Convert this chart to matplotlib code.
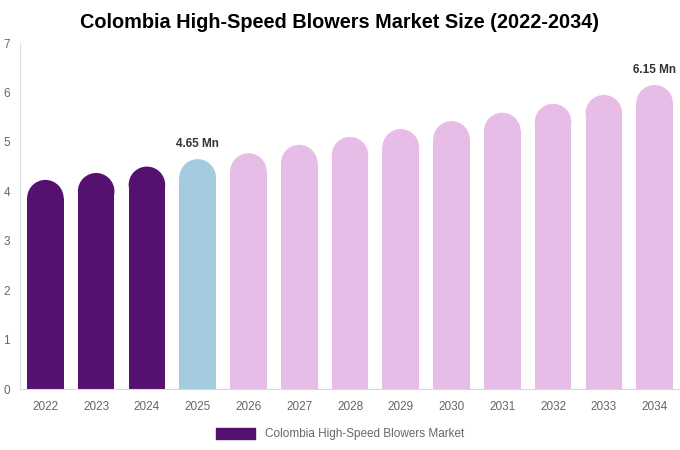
import matplotlib
matplotlib.use("Agg")
import matplotlib.pyplot as plt
from matplotlib.patches import Ellipse, Patch

plt.rcParams['font.family'] = ['Liberation Sans', 'DejaVu Sans']

years = ['2022', '2023', '2024', '2025', '2026', '2027', '2028',
         '2029', '2030', '2031', '2032', '2033', '2034']
values = [4.23, 4.37, 4.50, 4.65, 4.77, 4.94, 5.10, 5.26, 5.42, 5.59, 5.77, 5.95, 6.15]
colors = ['#541170'] * 3 + ['#A4CBDF'] + ['#E7BDE8'] * 9
labels = {3: '4.65 Mn', 12: '6.15 Mn'}
legend_name = 'Colombia High-Speed Blowers Market'

fig = plt.figure(figsize=(6.8, 4.5), dpi=100)
ax = fig.add_axes([20 / 680, 1 - 389 / 450, 660 / 680, (389 - 43) / 450])

ax.set_xlim(-0.5, 12.5)
ax.set_ylim(0, 7)

# rounded bar tops: radius = half of bar width in pixels, converted to y units
bw = 0.72
px_per_x = 660 / 13
px_per_y = (389 - 43) / 7
ry = (bw / 2) * px_per_x / px_per_y

for i, (v, c) in enumerate(zip(values, colors)):
    ax.bar(i, v - ry + 0.01, width=bw, color=c, linewidth=0)
    ax.add_patch(Ellipse((i, v - ry), bw, 2 * ry, color=c, linewidth=0))
    if i in labels:
        ax.text(i, v + 0.18, labels[i], ha='center', va='bottom',
                fontsize=8.5, fontweight='bold', color='#333333')

ax.set_xticks(range(len(years)))
ax.set_xticklabels(years)
ax.set_yticks(range(8))
ax.tick_params(axis='both', length=0, labelsize=8.5, colors='#666666')
ax.tick_params(axis='x', pad=9)
ax.tick_params(axis='y', pad=12)
for lbl in ax.get_yticklabels():
    lbl.set_horizontalalignment('left')
for s in ['top', 'right']:
    ax.spines[s].set_visible(False)
ax.spines['left'].set_color('#e0e0e0')
ax.spines['bottom'].set_color('#d8d8d8')

fig.suptitle('Colombia High-Speed Blowers Market Size (2022-2034)',
             fontsize=14.3, fontweight='bold', y=0.97)

fig.legend(handles=[Patch(color='#541170', label=legend_name)],
           loc='lower center', bbox_to_anchor=(0.5, -0.002), frameon=False,
           fontsize=8.5, handlelength=3.3, handleheight=1.0, labelcolor='#666666')

fig.savefig('out.png', dpi=100)
